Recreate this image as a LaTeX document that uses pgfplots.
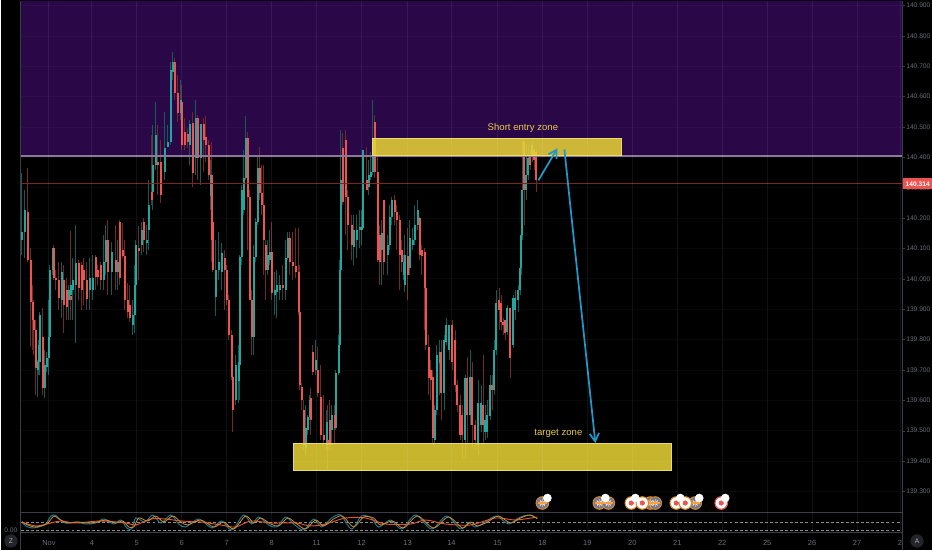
\documentclass[border=0pt]{standalone}
\usepackage{fontspec}
\setmainfont{Liberation Sans}
\usepackage{pgfplots}
\usepackage{pgfplotstable}
\pgfplotsset{compat=1.18}
\usetikzlibrary{arrows.meta}

\definecolor{pane}{HTML}{000000}
\definecolor{purp}{HTML}{2A0848}
\definecolor{teal1}{HTML}{22A79E}
\definecolor{teal2}{HTML}{0F5C58}
\definecolor{red1}{HTML}{EF5350}
\definecolor{red2}{HTML}{6E2A26}
\definecolor{txt}{HTML}{6A6D78}
\definecolor{sep}{HTML}{3A3D46}
\definecolor{zone}{HTML}{EBD636}
\definecolor{zoneline}{HTML}{E8DC70}
\definecolor{zonetxt}{HTML}{E0C848}
\definecolor{arrowb}{HTML}{1F98CC}
\definecolor{osc1}{HTML}{15809A}
\definecolor{osc2}{HTML}{E0562E}
\definecolor{osc3}{HTML}{D98A2B}
\definecolor{ring}{HTML}{D98A1E}
\definecolor{flag}{HTML}{6B7AA0}

% candles read off the picture: x, high, low, body top, body bottom (picture rows)
\pgfplotstableread{
x hi lo top bot
21 173 255 232 240
24 190 258 210 232
37 360 397 362 370
38 340 375 345 362
39 312 375 315 362
44 350 398 365 388
46 352 372 358 367
48 300 375 337 358
49 265 340 270 337
52 248 275 248 270
61 262 318 272 300
68 285 320 290 300
70 260 312 285 295
72 258 320 280 290
75 225 343 263 285
89 258 310 278 290
92 255 300 278 290
103 235 290 262 280
105 225 275 240 262
111 242 295 252 272
117 240 290 262 272
132 300 335 315 325
134 265 333 285 315
135 240 290 245 285
141 222 255 230 245
146 225 255 240 243
148 180 250 205 230
152 125 210 165 192
155 102 170 135 165
164 112 180 148 172
167 125 147 142 147
170 62 145 70 142
172 52 80 62 72
180 80 120 100 113
189 120 165 124 145
195 100 175 118 158
200 125 185 124 158
210 160 210 175 196
215 240 316 270 297
218 232 280 262 270
221 243 290 253 272
235 355 405 365 400
238 345 403 362 381
239 255 400 257 365
241 185 265 190 257
243 150 215 178 210
245 116 180 138 178
253 245 355 257 337
255 218 262 222 257
257 157 225 168 222
267 240 275 255 270
269 230 265 252 260
274 272 315 290 295
276 270 318 285 292
279 275 300 285 290
285 240 300 258 290
287 232 260 238 258
305 405 455 428 448
307 415 435 417 430
309 395 420 400 417
315 340 375 360 370
326 410 450 422 445
331 405 445 415 430
335 370 430 373 428
338 335 375 345 373
339 260 348 270 345
340 130 275 180 270
353 215 265 230 247
356 215 258 230 240
359 210 248 227 230
361 210 245 227 230
362 150 230 150 228
368 160 195 175 187
370 152 180 172 177
372 100 175 138 172
381 220 285 233 250
387 235 275 245 255
389 205 250 217 245
391 197 225 200 217
403 255 280 262 275
404 235 292 255 285
409 220 275 238 268
412 228 250 240 245
414 205 245 225 240
417 200 230 210 225
434 405 447 410 440
436 345 415 355 410
439 340 395 352 363
444 335 410 340 393
446 318 345 325 342
449 325 360 325 350
465 375 458 378 440
470 350 425 377 415
478 380 455 403 445
481 385 432 403 425
485 405 440 420 432
487 400 438 415 432
490 375 420 385 416
494 340 395 350 390
496 290 355 303 350
507 305 335 308 332
513 295 348 298 345
515 290 320 298 310
518 285 312 290 300
520 265 295 268 290
521 230 275 235 268
522 140 240 190 235
526 145 200 175 190
528 145 180 158 175
532 140 162 145 155
}\upcandles

\pgfplotstableread{
x hi lo top bot
27 168 262 212 260
30 248 347 260 302
32 285 350 302 320
33 300 355 320 330
35 320 395 330 368
42 308 395 337 388
53 245 280 248 278
55 270 290 278 280
58 262 310 280 298
63 265 333 280 305
66 278 320 290 307
70 231 320 296 300
78 260 300 263 288
81 262 310 265 290
83 258 305 270 280
86 262 310 280 299
95 255 290 257 277
97 265 285 270 277
100 262 290 265 280
107 220 295 240 272
115 225 290 260 272
119 220 285 222 278
122 223 258 250 256
124 240 310 256 300
127 283 318 300 312
129 285 322 305 318
138 226 280 248 251
143 218 252 222 240
151 135 205 192 200
157 125 195 162 165
160 140 203 162 195
174 58 100 62 93
177 75 122 93 113
181 85 150 102 145
184 118 150 132 145
187 128 148 134 142
192 112 187 123 173
197 115 180 118 158
203 118 172 124 140
205 116 162 137 145
208 140 180 145 175
211 142 262 175 240
212 200 272 222 270
224 250 310 258 270
226 265 305 270 300
228 295 340 300 335
231 330 380 335 377
232 372 432 377 410
247 132 250 138 197
249 190 300 197 300
251 290 355 300 337
259 147 200 168 193
261 165 215 193 205
263 165 275 205 240
265 240 300 245 270
271 222 300 252 293
282 265 300 285 288
289 232 275 238 262
292 232 280 262 266
295 228 278 266 272
298 228 315 272 312
299 265 390 312 385
301 383 410 387 400
303 400 450 410 445
310 388 435 398 420
312 345 375 352 372
317 347 397 370 393
320 365 440 397 435
323 395 445 435 440
327 405 470 440 445
329 400 450 420 445
334 405 445 415 428
342 133 205 148 202
345 130 235 140 197
347 190 250 197 225
351 215 260 225 245
366 147 190 180 190
374 115 178 122 172
377 150 262 172 260
379 225 285 235 262
383 200 275 200 262
394 195 225 200 212
396 205 250 212 220
399 215 290 220 255
401 240 272 250 262
407 228 300 256 275
419 217 260 218 255
421 245 275 250 256
424 248 330 252 288
425 270 350 288 345
428 335 395 347 378
430 360 400 370 380
432 370 445 377 438
441 340 420 352 393
452 320 370 325 362
455 330 392 340 385
457 380 412 385 405
460 395 440 405 435
462 405 459 415 435
467 357 445 378 415
472 362 447 377 425
475 420 450 425 440
483 355 445 405 425
492 375 410 385 390
499 288 330 300 310
501 295 330 303 322
503 318 335 322 325
505 320 340 320 333
510 308 378 308 358
524 138 225 142 190
530 150 170 155 165
534 148 170 150 160
536 150 192 152 180
}\downcandles

\begin{document}
\begin{tikzpicture}
% page = 932x550 at 0.75pt per pixel; axis origin sits at picture (20,533)
\fill[pane] (-15pt,-12.75pt) rectangle (684pt,399.75pt);
\begin{axis}[
  scale only axis,
  at={(0pt,0pt)},
  width=661.5pt, height=399.75pt,
  xmin=20, xmax=902, ymin=0, ymax=533,
  y dir=reverse,
  clip=false,
  axis on top,
  axis x line*=bottom,
  axis y line*=right,
  axis line style={color=sep, line width=0.75pt},
  major tick length=2pt,
  tick align=outside,
  x tick style={draw=none},
  y tick style={color=sep},
  xtick={48,91,136,181,226,271,316,361,407,451,497,542,587,632,677,722,767,812,857,900},
  xticklabels={Nov,4,5,6,7,8,11,12,13,14,15,18,19,20,21,22,25,26,27,2},
  ytick={5,35.4,65.8,96.2,126.6,157,187.4,217.8,248.2,278.6,309,339.4,369.8,400.2,430.6,461,491.4},
  yticklabels={140.900,140.800,140.700,140.600,140.500,140.400,140.300,140.200,140.100,140.000,139.900,139.800,139.700,139.600,139.500,139.400,139.300},
  yticklabel style={inner sep=1pt, font=\fontsize{5}{6}\selectfont, text=txt},
  xticklabel style={inner sep=1pt, yshift=-2.2pt, font=\fontsize{5.6}{6}\selectfont, text=txt},
  xmajorgrids, ymajorgrids,
  x grid style={white, opacity=0.065, line width=0.6pt},
  y grid style={white, opacity=0.03, line width=0.5pt},
]
% overbought band
\addplot[draw=none, fill=purp] coordinates {(20,0) (902,0) (902,156) (20,156)} \closedcycle;

% wicks
\addplot[draw=none, mark=none, error bars/.cd, y dir=plus, y explicit, error mark=none,
  error bar style={color=teal2, line width=0.8pt}]
  table[x=x, y=hi, y error expr=\thisrow{lo}-\thisrow{hi}] {\upcandles};
\addplot[draw=none, mark=none, error bars/.cd, y dir=plus, y explicit, error mark=none,
  error bar style={color=red2, line width=0.8pt}]
  table[x=x, y=hi, y error expr=\thisrow{lo}-\thisrow{hi}] {\downcandles};
% bodies
\addplot[draw=none, mark=none, error bars/.cd, y dir=plus, y explicit, error mark=none,
  error bar style={color=teal1, line width=1.5pt}]
  table[x=x, y=top, y error expr=\thisrow{bot}-\thisrow{top}] {\upcandles};
\addplot[draw=none, mark=none, error bars/.cd, y dir=plus, y explicit, error mark=none,
  error bar style={color=red1, line width=1.5pt}]
  table[x=x, y=top, y error expr=\thisrow{bot}-\thisrow{top}] {\downcandles};

% level lines
\addplot[color=white!45!purp, line width=1.4pt] coordinates {(20,156) (902,156)};
\addplot[color=red2!90!red, line width=0.6pt] coordinates {(20,183.5) (902,183.5)};

% zones
\addplot[draw=zoneline, line width=0.6pt, fill=zone, fill opacity=0.85]
  coordinates {(372,138.5) (621,138.5) (621,155) (372,155)} -- cycle;
\addplot[draw=zoneline, line width=0.6pt, fill=zone, fill opacity=0.85]
  coordinates {(293,443) (671,443) (671,470) (293,470)} -- cycle;
\node[text=zonetxt, font=\fontsize{7.2}{9}\selectfont] at (axis cs:522.5,128) {Short entry zone};
\node[text=zonetxt, font=\fontsize{7.2}{9}\selectfont] at (axis cs:558,433) {target zone};

% drawn arrows
\addplot[color=arrowb, line width=1.3pt, -{Straight Barb[length=6pt,width=7pt]}]
  coordinates {(538,180) (557,148)};
\addplot[color=arrowb, line width=1.3pt, -{Straight Barb[length=6pt,width=7pt]}]
  coordinates {(564,149) (595,443)};

% lower pane
\addplot[color=sep, line width=0.75pt] coordinates {(20,512.5) (902,512.5)};
\addplot[color=white!55!black, line width=0.5pt, dash pattern=on 2.2pt off 1.6pt] coordinates {(20,522) (900,522)};
\addplot[color=white!55!black, line width=0.5pt, dash pattern=on 2.2pt off 1.6pt] coordinates {(20,530.5) (900,530.5)};
\addplot[color=sep, line width=0.75pt] coordinates {(20,0) (20,550)};
\addplot[color=sep, line width=0.75pt] coordinates {(902,533) (902,550)};
\node[text=txt, font=\fontsize{5}{6}\selectfont] at (axis cs:10,530) {0.00};

\addplot[color=osc1, line width=0.7pt, smooth] coordinates {
(21,522) (25,526) (31,528) (38,527) (45,524) (50,516) (55,515.5) (64,523) (75,522) (85,524) (95,523) (103,519) (113,524) (120,520) (126,528) (131,529) (135,518) (144,522) (152,515) (160,523) (170,515) (178,524) (185,527) (198,519) (211,528) (221,521) (231,530) (243,515) (251,524) (258,517) (268,525) (276,527) (285,517) (293,524) (303,530) (313,519) (321,527) (331,518) (340,515) (351,529) (361,516) (371,518) (378,527) (390,520) (401,529) (415,515) (431,529) (446,516) (460,529) (468,523) (475,527) (485,522) (496,516) (508,524) (518,518) (528,515) (536,518)};
\addplot[color=osc2, line width=0.7pt, smooth] coordinates {
(21,522) (35,526) (50,523) (60,521) (75,523) (100,521) (125,523) (135,525) (150,519) (165,519) (180,521) (200,522) (220,525) (235,527) (250,521) (270,523) (295,523) (310,526) (325,524) (345,518) (365,518) (385,524) (410,524) (425,520) (445,524) (470,525) (495,518) (515,520) (537,517)};
\addplot[color=osc3, line width=0.6pt, smooth] coordinates {
(21,522) (27,525) (33,527) (40,526) (47,523) (53,516) (58,519) (67,523) (77,522) (87,523) (97,522) (105,520) (115,523) (122,521) (128,527) (133,527) (138,518) (147,521) (155,516) (163,522) (172,516) (180,522) (187,525) (200,520) (213,527) (223,522) (233,529) (245,516) (253,523) (260,518) (270,524) (278,526) (287,518) (295,523) (305,529) (315,520) (323,526) (333,519) (342,516) (353,527) (363,517) (373,518) (380,525) (392,521) (403,528) (417,516) (433,528) (448,517) (462,528) (470,522) (477,526) (487,522) (498,516) (510,523) (520,518) (530,515) (537,519)};

% event markers
\addplot[only marks, mark=*, mark size=4.7pt, mark options={draw=ring, line width=0.8pt, fill=flag}]
  coordinates {(542,503) (599,503) (608,503) (650,503) (655,503) (695,503)};
\addplot[only marks, mark=x, mark size=2.6pt, mark options={draw=white!85!flag, line width=0.7pt}]
  coordinates {(542,503) (599,503) (608,503) (650,503) (655,503) (695,503)};
\addplot[only marks, mark=+, mark size=3.2pt, mark options={draw=orange!75!white, line width=0.9pt}]
  coordinates {(542,503) (599,503) (608,503) (650,503) (655,503) (695,503)};
\addplot[only marks, mark=*, mark size=4.7pt, mark options={draw=ring, line width=0.8pt, fill=white}]
  coordinates {(631,503) (642,503) (676,503) (685,503)};
\addplot[only marks, mark=*, mark size=4.7pt, mark options={draw=red1, line width=0.9pt, fill=white}]
  coordinates {(721,503)};
\addplot[only marks, mark=*, mark size=1.7pt, mark options={draw=red1, fill=red1}]
  coordinates {(631,503) (642,503) (676,503) (685,503) (721,503)};
\addplot[only marks, mark=*, mark size=3pt, mark options={draw=white, fill=white}]
  coordinates {(547,498) (605,498) (635,498) (680,498) (699,498) (725,498)};
\node[text=black, font=\fontsize{5}{5}\selectfont, inner sep=0pt] at (axis cs:547,498) {2};
\node[text=black, font=\fontsize{5}{5}\selectfont, inner sep=0pt] at (axis cs:605,498) {2};
\node[text=black, font=\fontsize{5}{5}\selectfont, inner sep=0pt] at (axis cs:635,498) {2};
\node[text=black, font=\fontsize{5}{5}\selectfont, inner sep=0pt] at (axis cs:680,498) {4};
\node[text=black, font=\fontsize{5}{5}\selectfont, inner sep=0pt] at (axis cs:699,498) {3};
\node[text=black, font=\fontsize{5}{5}\selectfont, inner sep=0pt] at (axis cs:725,498) {P};
\coordinate (lastp) at (axis cs:902,183.5);
\coordinate (zbtn) at (axis cs:10,541);
\coordinate (abtn) at (axis cs:917,541);
\end{axis}
% drawn last so that it hides the 140.300 tick label, as the original does
\fill[red1] ([xshift=0.4pt,yshift=-4.2pt]lastp) rectangle ([xshift=22.5pt,yshift=4.2pt]lastp);
\node[anchor=west, text=white, font=\bfseries\fontsize{5}{6}\selectfont, inner sep=0pt] at ([xshift=2.5pt]lastp) {140.314};
\node[circle, fill=sep!60!black, text=white!70!black, font=\fontsize{5}{6}\selectfont, inner sep=1.1pt, minimum size=10pt] at (zbtn) {Z};
\node[circle, fill=sep!60!black, text=white!70!black, font=\fontsize{5}{6}\selectfont, inner sep=1.1pt, minimum size=10pt] at (abtn) {A};
\end{tikzpicture}
\end{document}
